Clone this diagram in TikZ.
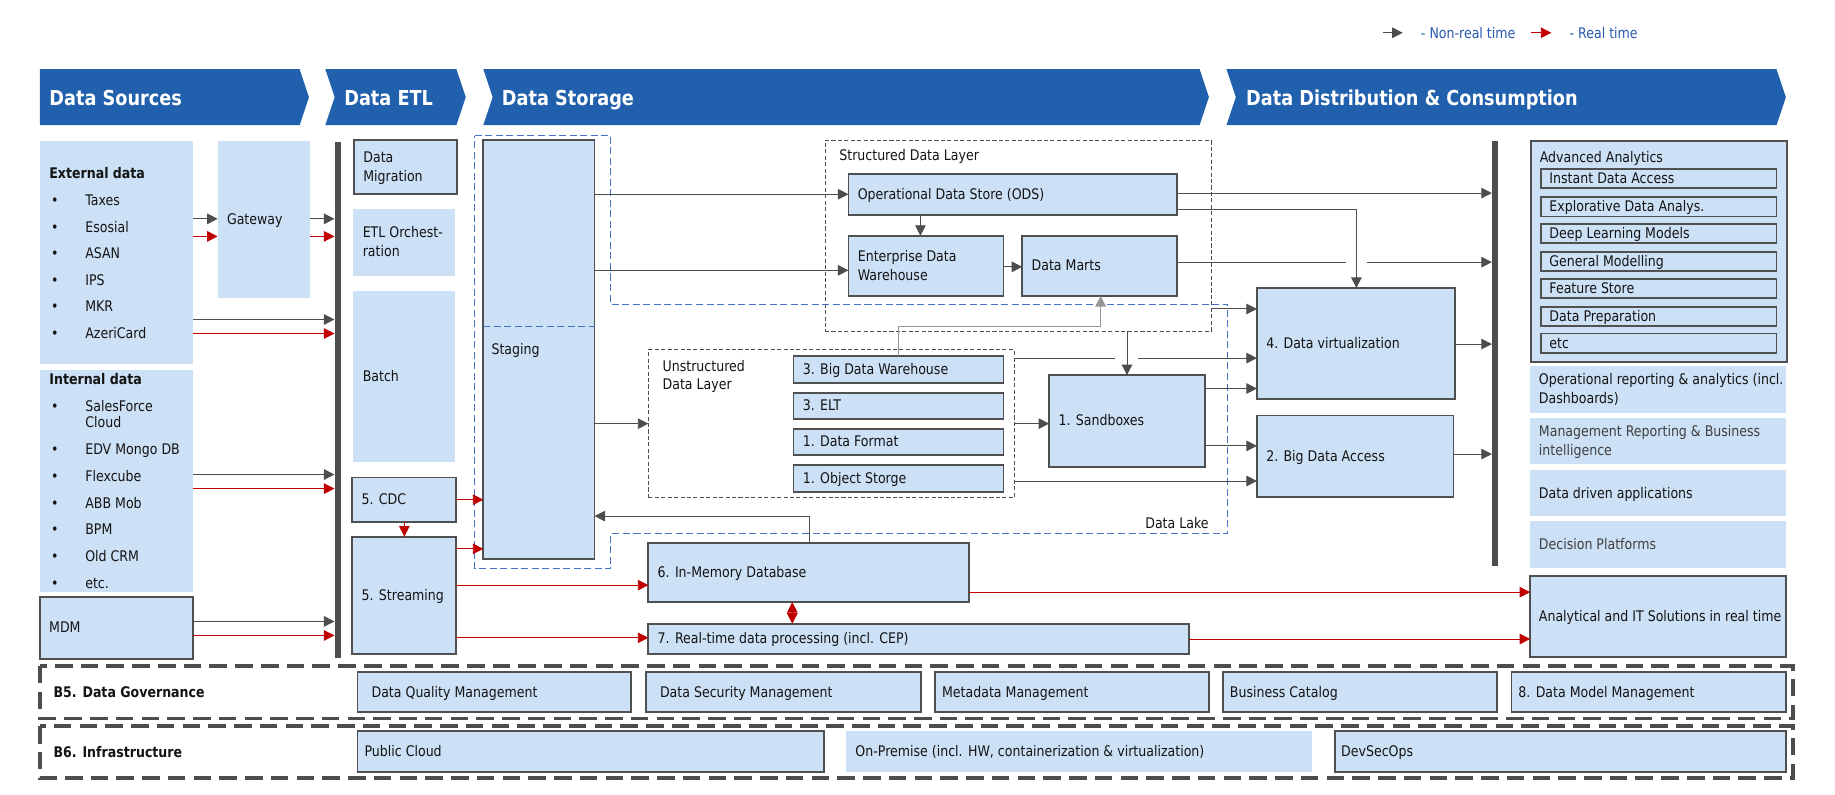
\documentclass[tikz,border=0pt]{standalone}
\usepackage{fontspec}
\setmainfont{DejaVu Sans}[FakeStretch=0.86]
\usetikzlibrary{arrows.meta,calc}
\definecolor{hdr}{RGB}{32,96,172}
\definecolor{fillb}{RGB}{204,224,246}
\definecolor{bord}{RGB}{80,80,80}
\definecolor{conn}{RGB}{77,77,77}
\definecolor{rt}{RGB}{192,0,0}
\definecolor{lake}{RGB}{68,114,196}
\definecolor{lgtxt}{RGB}{40,88,176}
\definecolor{txt}{RGB}{20,20,20}
\definecolor{lgray}{RGB}{150,150,150}
\definecolor{dimtxt}{RGB}{64,64,64}
\newcommand\fsz{\fontsize{12.5}{16}\selectfont\setbox\strutbox\hbox{\vrule height 12.2pt depth 3.8pt width 0pt}}
\newcommand\hdrfont{\bfseries\fontsize{17.6}{20}\selectfont}
\newcommand\dpad{8}
\newcommand\DBox[7][]{%
  \pgfmathsetmacro\dbw{#5-#3}%
  \pgfmathsetmacro\dbh{#6-#4}%
  \pgfmathsetmacro\dbx{(#3+#5)/2}%
  \pgfmathsetmacro\dby{(#4+#6)/2}%
  \pgfmathsetmacro\dbt{#5-#3-2*\dpad}%
  \node[fbox,#1,minimum width=\dbw pt,minimum height=\dbh pt,inner xsep=\dpad pt] (#2) at (\dbx,\dby) {\makebox[\dbt pt][l]{\begin{tabular}{@{}l@{}}#7\end{tabular}}};%
}
\tikzset{
 every node/.style={font=\fsz, text=txt},
 fbox/.style={fill=fillb, inner ysep=0pt, outer sep=0pt},
 bbox/.style={draw=bord, line width=1.6pt},
 layer/.style={fill=none, draw=conn, line width=0.8pt, dash pattern=on 3.5pt off 2pt},
 dim/.style={text=dimtxt},
 lbl/.style={inner sep=0pt, anchor=base west},
 blbl/.style={lbl, font=\fsz\bfseries},
 htxt/.style={inner sep=0pt, anchor=base west, text=white, font=\hdrfont},
 cline/.style={draw=conn, line width=0.8pt},
 arr/.style={cline, -{Triangle[length=9pt,width=9pt]}},
 rarr/.style={draw=rt, line width=0.8pt, -{Triangle[length=9pt,width=9pt]}},
 rdbl/.style={draw=rt, line width=0.8pt, {Triangle[length=9pt,width=9pt]}-{Triangle[length=9pt,width=9pt]}},
 larr/.style={draw=lgray, line width=1.2pt, -{Triangle[length=9pt,width=9pt]}},
 lakes/.style={draw=lake, line width=1pt, dash pattern=on 6pt off 3pt},
 gov/.style={draw=conn, line width=3pt, dash pattern=on 15pt off 7pt},
 barn/.style={fill=conn, inner sep=0pt, minimum width=5pt},
}
\begin{document}
\begin{tikzpicture}[x=1pt,y=-1pt]
\useasboundingbox (0,0) rectangle (1568,679.3);
\fill[white] (0,0) rectangle (1568,679.3);

% legend
\coordinate (lg1a) at (1181.5,28);
\coordinate (lg1b) at (1198.6,28);
\coordinate (lg2a) at (1308,28);
\coordinate (lg2b) at (1325.6,28);
\draw[arr] (lg1a) -- (lg1b);
\draw[rarr] (lg2a) -- (lg2b);
\node[lbl,text=lgtxt] (lgt1) at (1214,32.5) {- Non-real time};
\node[lbl,text=lgtxt] (lgt2) at (1341,32.5) {- Real time};

% headers
\fill[hdr] (34,59) -- (256,59) -- (264,83) -- (256,107) -- (34,107) -- cycle;
\fill[hdr] (278,59) -- (390,59) -- (398,83) -- (390,107) -- (278,107) -- (286,83) -- cycle;
\fill[hdr] (413,59) -- (1025,59) -- (1033,83) -- (1025,107) -- (413,107) -- (421,83) -- cycle;
\fill[hdr] (1048,59) -- (1518,59) -- (1526,83) -- (1518,107) -- (1048,107) -- (1056,83) -- cycle;
\node[htxt] (h1) at (42,89.8) {Data Sources};
\node[htxt] (h2) at (294,89.8) {Data ETL};
\node[htxt] (h3) at (428.7,89.8) {Data Storage};
\node[htxt] (h4) at (1064.6,89.8) {Data Distribution \& Consumption};

% sources
\DBox{ext}{34}{120.5}{165}{311}{}
\DBox{int}{34}{316}{165}{505.5}{}
\DBox[bbox]{mdm}{34}{510}{165}{563}{MDM}
\DBox{gw}{186}{120.5}{265}{254.5}{Gateway}
\node[blbl] (extl) at (42,152.5) {External data};
\node[blbl] (intl) at (42,328.5) {Internal data};
\foreach \nm/\yy/\tx in {e1/171/Taxes, e2/194/Esosial, e3/216/ASAN, e4/239.3/IPS, e5/262/MKR, e6/285/AzeriCard,
  i1/347/SalesForce, i2/384/EDV Mongo DB, i3/406.8/Flexcube, i4/430/ABB Mob, i5/452.6/BPM, i6/475.7/Old CRM, i7/498/etc.}{
  \node[lbl] (b\nm) at (43.5,\yy+4.5) {•};
  \node[lbl] (\nm) at (72.7,\yy+4.5) {\tx};
}
\node[lbl] (i1b) at (72.7,365.5) {Cloud};

\node[barn, minimum height=441pt] (bar1) at (288.5,342) {};

% ETL
\DBox[bbox]{mig}{302.5}{119.5}{390.5}{166}{Data\\Migration}
\DBox{orch}{302}{178.5}{389}{235.5}{ETL Orchest-\\ration}
\DBox{batch}{302}{248.5}{389}{395}{Batch}
\DBox[bbox]{cdc}{301}{408}{390}{446}{5. CDC}
\DBox[bbox]{strm}{301}{458.5}{390}{559}{5. Streaming}

% storage
\draw[lakes] (405.7,116) -- (522,116) -- (522,260) -- (1049,260) -- (1049,456) -- (522,456) -- (522,486) -- (405.7,486) -- cycle;
\node[inner sep=0pt, anchor=base east] (lakel) at (1033,451.5) {Data Lake};
\renewcommand\dpad{7}
\DBox[bbox]{stg}{413}{119.5}{508}{478}{Staging}
\draw[lakes] (stg.west |- 0,279) -- (stg.east |- 0,279);
\renewcommand\dpad{8}
\DBox[layer]{sdl}{705}{120}{1035}{283}{}
\node[lbl] (sdll) at (717,137.5) {Structured Data Layer};
\DBox[bbox]{ods}{725}{148.5}{1006}{184}{Operational Data Store (ODS)}
\DBox[bbox]{edw}{725}{201.5}{857.5}{253}{Enterprise Data\\Warehouse}
\DBox[bbox]{dm}{873.5}{201.5}{1006}{253}{Data Marts}
\DBox[layer]{usl}{554}{299}{866.5}{425.5}{}
\node[lbl] (usll1) at (566,317.5) {Unstructured};
\node[lbl] (usll2) at (566,332.5) {Data Layer};
\DBox[bbox]{bdw}{678}{304.5}{857.5}{327.5}{3. Big Data Warehouse}
\DBox[bbox]{elt}{678}{335.5}{857.5}{358}{3. ELT}
\DBox[bbox]{dfm}{678}{366.5}{857.5}{389}{1. Data Format}
\DBox[bbox]{obs}{678}{397.5}{857.5}{420.5}{1. Object Storge}
\DBox[bbox]{sb}{896.5}{320.5}{1030}{399}{1. Sandboxes}
\DBox[bbox]{dv}{1074}{246}{1243}{341}{4. Data virtualization}
\DBox[bbox]{bda}{1074}{355}{1242}{425}{2. Big Data Access}
\DBox[bbox]{imdb}{554}{464}{828}{514.5}{6. In-Memory Database}
\DBox[bbox]{rtp}{554}{533}{1016}{558.5}{7. Real-time data processing (incl. CEP)}

\node[barn, minimum height=363.3pt] (bar2) at (1277.5,302.4) {};

% consumption
\DBox[bbox]{aa}{1308}{120.5}{1527}{309}{}
\node[lbl] (aal) at (1315.5,138.5) {Advanced Analytics};
\renewcommand\dpad{7.5}
\DBox[bbox]{ida}{1316.5}{144.5}{1518}{160.5}{Instant Data Access}
\DBox[bbox]{eda}{1316.5}{168}{1518}{185}{Explorative Data Analys.}
\DBox[bbox]{dlm}{1316.5}{191.5}{1518}{208}{Deep Learning Models}
\DBox[bbox]{gmo}{1316.5}{215.5}{1518}{231.5}{General Modelling}
\DBox[bbox]{fst}{1316.5}{238.5}{1518}{254.7}{Feature Store}
\DBox[bbox]{dpr}{1316.5}{262}{1518}{278.6}{Data Preparation}
\DBox[bbox]{etc}{1316.5}{285}{1518}{301.4}{etc}
\DBox{opr}{1307.5}{313}{1526}{352.5}{Operational reporting \& analytics (incl.\\Dashboards)}
\DBox[dim]{mgr}{1307.5}{357.5}{1526}{396.5}{Management Reporting \& Business\\intelligence}
\DBox{dda}{1307.5}{402}{1526}{441}{Data driven applications}
\DBox[dim]{dcp}{1307.5}{445.5}{1526}{485.5}{Decision Platforms}
\DBox[bbox]{art}{1307.5}{492.5}{1526}{561.5}{Analytical and IT Solutions in real time}

% governance / infrastructure
\draw[gov] (34,569) rectangle (1532,614);
\draw[gov] (34,620.5) rectangle (1532,665);
\node[blbl] (govl) at (45.6,596) {B5. Data Governance};
\node[blbl] (infl) at (45.6,647) {B6. Infrastructure};
\renewcommand\dpad{12}
\DBox[bbox]{dqm}{305.5}{574.5}{539}{608.5}{Data Quality Management}
\DBox[bbox]{dsm}{552}{574.5}{787}{608.5}{Data Security Management}
\renewcommand\dpad{6}
\DBox[bbox]{mdt}{799}{574.5}{1033}{608.5}{Metadata Management}
\DBox[bbox]{bcat}{1045}{574.5}{1279.5}{608.5}{Business Catalog}
\DBox[bbox]{dmm}{1291.5}{574.5}{1526}{608.5}{8. Data Model Management}
\DBox[bbox]{pcl}{305.5}{625}{704}{660}{Public Cloud}
\renewcommand\dpad{8}
\DBox{onp}{723}{625}{1121.5}{660}{On-Premise (incl. HW, containerization \& virtualization)}
\renewcommand\dpad{5}
\DBox[bbox]{dso}{1141}{625}{1526}{660}{DevSecOps}

% connectors: sources
\draw[arr] (ext.east |- 0,187) -- (gw.west |- 0,187);
\draw[rarr] (ext.east |- 0,202) -- (gw.west |- 0,202);
\draw[arr] (gw.east |- 0,187) -- (bar1.west |- 0,187);
\draw[rarr] (gw.east |- 0,202) -- (bar1.west |- 0,202);
\draw[arr] (ext.east |- 0,273) -- (bar1.west |- 0,273);
\draw[rarr] (ext.east |- 0,285) -- (bar1.west |- 0,285);
\draw[arr] (int.east |- 0,405.5) -- (bar1.west |- 0,405.5);
\draw[rarr] (int.east |- 0,417.5) -- (bar1.west |- 0,417.5);
\draw[arr] (mdm.east |- 0,531) -- (bar1.west |- 0,531);
\draw[rarr] (mdm.east |- 0,543) -- (bar1.west |- 0,543);

% ETL
\draw[rarr] (cdc.east |- 0,427) -- (stg.west |- 0,427);
\draw[rarr] (cdc.south -| 345.5,0) -- (strm.north -| 345.5,0);
\draw[rarr] (strm.east |- 0,469) -- (stg.west |- 0,469);
\draw[rarr] (strm.east |- 0,500) -- (imdb.west |- 0,500);
\draw[rarr] (strm.east |- 0,545) -- (rtp.west |- 0,545);

% storage
\draw[arr] (stg.east |- 0,166) -- (ods.west |- 0,166);
\draw[arr] (stg.east |- 0,231) -- (edw.west |- 0,231);
\draw[arr] (ods.south -| 786.5,0) -- (edw.north -| 786.5,0);
\draw[arr] (edw.east |- 0,228) -- (dm.west |- 0,228);
\draw[arr] (stg.east |- 0,362) -- (usl.west |- 0,362);
\draw[larr] (bdw.north -| 768,0) -- (768,279) -| (dm.south -| 940.5,0);
\draw[arr] (sdl.south -| 963,0) -- (sb.north -| 963,0);
\draw[arr] (usl.east |- 0,362) -- (sb.west |- 0,362);
\coordinate (gapa) at (953,306);
\coordinate (gapb) at (972,306);
\draw[cline] (usl.east |- 0,306) -- (gapa);
\draw[arr] (gapb) -- (dv.west |- 0,306);
\draw[arr] (usl.east |- 0,411) -- (bda.west |- 0,411);
\draw[arr] (sb.east |- 0,332) -- (dv.west |- 0,332);
\draw[arr] (sb.east |- 0,381) -- (bda.west |- 0,381);
\draw[arr] (ods.east |- 0,165) -- (bar2.west |- 0,165);
\draw[arr] (ods.east |- 0,179) -| (dv.north -| 1159,0);
\coordinate (gapc) at (1150,224);
\coordinate (gapd) at (1168,224);
\draw[cline] (dm.east |- 0,224) -- (gapc);
\draw[arr] (gapd) -- (bar2.west |- 0,224);
\draw[arr] (sdl.east |- 0,264) -- (dv.west |- 0,264);
\draw[arr] (dv.east |- 0,294) -- (bar2.west |- 0,294);
\draw[arr] (bda.east |- 0,388) -- (bar2.west |- 0,388);
\draw[arr] (imdb.north -| 692,0) |- (stg.east |- 0,441);
\draw[rdbl] (imdb.south -| 677,0) -- (rtp.north -| 677,0);
\draw[rarr] (imdb.east |- 0,506) -- (art.west |- 0,506);
\draw[rarr] (rtp.east |- 0,546) -- (art.west |- 0,546);
\end{tikzpicture}
\end{document}
